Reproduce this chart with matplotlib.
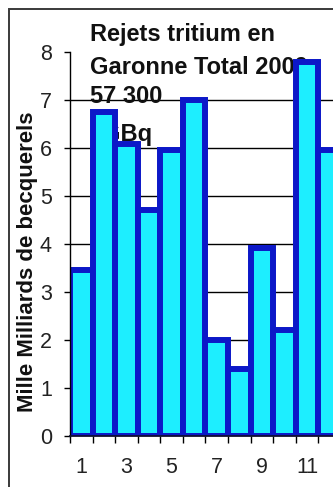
import matplotlib
matplotlib.use("Agg")
import matplotlib.pyplot as plt
from matplotlib.patches import Rectangle

months = [1, 2, 3, 4, 5, 6, 7, 8, 9, 10, 11, 12]
values = [3.46, 6.76, 6.09, 4.71, 5.96, 7.0, 2.0, 1.4, 3.92, 2.21, 7.8, 5.96]
xtick_labels = ["1", "3", "5", "7", "9", "11"]
xtick_pos = [1, 3, 5, 7, 9, 11]
yticks = [0, 1, 2, 3, 4, 5, 6, 7, 8]
title_lines = ["Rejets tritium en", "Garonne Total 2009", "57 300", "GBq"]
ylabel = "Mille Milliards de becquerels"

W, H = 333, 487
DPI = 100
fig = plt.figure(figsize=(W / DPI, H / DPI), dpi=DPI)
fig.patch.set_facecolor("white")

plt.rcParams["font.family"] = ["Liberation Sans", "DejaVu Sans"]

def px(x, y):
    return x / W, 1 - y / H

left, right, top, bottom = 70, 340.8, 52, 436
ax = fig.add_axes([left / W, 1 - bottom / H, (right - left) / W, (bottom - top) / H])
ax.set_facecolor("white")

ax.bar(months, values, width=1.0, color="#1DEEFF", edgecolor="#0C18C8",
       linewidth=4.3, zorder=2)

ax.set_xlim(0.5, 12.5)
ax.set_ylim(0, 8)
ax.set_yticks(yticks)
ax.set_yticklabels([str(v) for v in yticks])
ax.yaxis.grid(True, color="black", linewidth=1.0, zorder=0.5)
ax.set_axisbelow(True)
gl = ax.get_ygridlines()
gl[-1].set_visible(False)

# major ticks at bar boundaries (marks only), minor at centers (labels only)
bounds = [m - 0.5 for m in months] + [months[-1] + 0.5]
ax.set_xticks(bounds)
ax.set_xticklabels([])
ax.set_xticks(xtick_pos, minor=True)
ax.set_xticklabels(xtick_labels, minor=True)
ax.tick_params(axis="x", which="major", direction="out", length=5, width=1.0, color="black")
ax.tick_params(axis="x", which="minor", length=0, pad=15, labelsize=15.5, labelcolor="#222222")
ax.tick_params(axis="y", direction="out", length=4, width=1.0, pad=9, labelsize=15.5,
               labelcolor="#222222")

for s in ["top", "right"]:
    ax.spines[s].set_visible(False)
ax.spines["left"].set_color("black")
ax.spines["left"].set_linewidth(1.0)
ax.spines["bottom"].set_color("#101030")
ax.spines["bottom"].set_linewidth(1.3)

# title text inside plot, below bars
title_pos = [(90, 41), (90, 74), (90, 103), (102, 141)]
for t, (x, y) in zip(title_lines, title_pos):
    ax.text(*px(x, y), t, transform=fig.transFigure, fontsize=17, fontweight="bold",
            color="#111111", ha="left", va="baseline", zorder=1, clip_on=False)

fig.text(*px(28, 262), ylabel, rotation=90, ha="center", va="center",
         fontsize=16, fontweight="bold", color="#111111")

# outer chart border
fig.patches.append(Rectangle(px(9, 500), 1.0, (500 - 9) / H, transform=fig.transFigure,
                             fill=False, edgecolor="#3A3A3A", linewidth=1.4))

fig.savefig("out.png", dpi=DPI)
